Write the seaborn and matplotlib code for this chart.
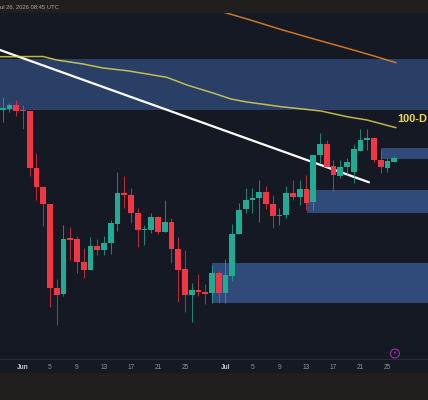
import pandas as pd
import matplotlib
matplotlib.use('Agg')
import matplotlib.pyplot as plt
from matplotlib.patches import Rectangle
import seaborn as sns

# Daily candles, day 0 = Jun 1
days = list(range(-3, 56))
opens = [290.5, 291.3, 295, 290, 289, 232, 213, 196, 112, 106, 162, 161, 138, 130, 154, 150, 157, 176, 207, 205,
         187, 170, 170, 183, 168, 178, 151, 131, 105, 110, 108, 107, 127, 107, 124, 166, 191, 200, 202, 208,
         196, 184, 185, 207, 203, 211, 198, 245, 256, 234, 224, 233, 228, 249, 260, 262, 240, 232, 238]
closes = [292, 294.7, 289, 289, 232, 213, 196, 112, 105, 161, 160.5, 138, 130, 154, 150, 157, 177, 207, 205, 187,
          170, 171, 183, 168, 178, 151, 130, 105, 110, 108, 106.5, 127, 107, 125, 166, 190, 200, 202, 208, 196,
          184, 185, 207, 203, 211, 197, 245, 256, 233, 225, 233, 238, 251, 260, 262, 240, 233, 239, 242]
highs = [303, 297, 300, 295, 289, 247, 214, 196, 121, 175, 173, 164, 152, 163, 161, 164, 180, 228, 224, 212,
         192, 175, 187, 184, 200, 182, 163, 150, 117, 126, 116, 135, 129, 141, 176, 197, 212, 212, 220, 214,
         205, 192, 214, 220, 220, 225, 245, 267, 260, 240, 240, 242, 256, 271, 271, 263, 250, 242, 244]
lows = [278, 288, 284, 271, 224, 200, 174, 93, 75, 104, 140, 127, 122, 130, 145, 145, 146, 169, 192, 177,
        153, 155, 167, 166, 168, 137, 98, 88, 78, 104, 96, 97, 97, 97, 119, 166, 187, 187, 178, 191,
        172, 175, 182, 200, 195, 190, 190, 237, 233, 208, 222, 225, 217, 249, 250, 238, 227, 228, 238]

# Moving averages and trend line
ma100_days = [-3.41, 2.96, 5.0, 8.9, 11.85, 15.4, 18.4, 21.3, 24.3, 28.15, 30.81, 33.19, 38.22, 44.15, 48, 50.96, 55.26]
ma100_vals = [343.3, 343.5, 340, 336, 332, 329.3, 326, 322.7, 315, 307, 301, 298, 293.3, 289, 283.3, 280, 272.3]
ma200_days = [29.78, 33.19, 38.22, 43.11, 48, 52, 55.26]
ma200_vals = [387.7, 381, 370.5, 361, 351.8, 344, 337.3]
trend_days = [-3.41, 51.26]
trend_vals = [350, 217.7]

# Supply / demand zones
zone_start = [-3.41, 53, 42.1, 28.0]
zone_low = [290, 241, 187.3, 96.7]
zone_high = [341.3, 251.7, 210.5, 137.3]
zone_colors = ['#2a3f66', '#304b7a', '#304b7a', '#304b7a']

tick_days = [0, 4, 8, 12, 16, 20, 24, 30, 34, 38, 42, 46, 50, 54]
tick_labels = ['Jun', '5', '9', '13', '17', '21', '25', 'Jul', '5', '9', '13', '17', '21', '25']

UP = '#22ab94'
DOWN = '#f23645'
BG = '#151924'
BAR = '#201f1e'

sns.set_theme(style='dark')
plt.rcParams['font.family'] = ['Liberation Sans', 'DejaVu Sans']

df = pd.DataFrame({'day': days, 'open': opens, 'close': closes, 'high': highs, 'low': lows})
df['up'] = df['close'] >= df['open']
df['body_low'] = df[['open', 'close']].min(axis=1)
df['body_height'] = (df['close'] - df['open']).abs()

fig = plt.figure(figsize=(4.28, 4.0), dpi=100, facecolor=BAR)
ax = fig.add_axes([0, 41 / 400, 1, 346.5 / 400], facecolor=BG)

# Strip under the time axis
fig.add_artist(Rectangle((0, 28 / 400), 1, 13 / 400, transform=fig.transFigure, color=BG, zorder=0))

for start, low, high, color in zip(zone_start, zone_low, zone_high, zone_colors):
    ax.add_patch(Rectangle((start, low), 60 - start, high - low, color=color, lw=0, zorder=1))

sns.lineplot(x=trend_days, y=trend_vals, color='white', linewidth=1.6, ax=ax, zorder=2)

# Wicks then bodies
for is_up, color in [(True, UP), (False, DOWN)]:
    sub = df[df['up'] == is_up]
    ax.vlines(sub['day'], sub['low'], sub['high'], color=color, linewidth=0.7, alpha=0.75, zorder=3)
    sns.barplot(data=sub, x='day', y='body_height', bottom=sub['body_low'].values, native_scale=True,
                color=color, saturation=1, width=0.82, linewidth=0, errorbar=None, ax=ax, zorder=4)

sns.lineplot(x=ma100_days, y=ma100_vals, color='#e8dc50', alpha=0.8, linewidth=1.1, ax=ax, zorder=5)
sns.lineplot(x=ma200_days, y=ma200_vals, color='#e07f28', alpha=0.9, linewidth=1.1, ax=ax, zorder=5)

ax.text(55.5, 280.5, '100-D', color='#ecd84f', fontsize=7.9, fontweight='bold',
        va='center', ha='left', zorder=6)

# Event marker above the time axis
ax.scatter([55.1], [46.5], s=42, facecolor='none', edgecolor='#9c2fb0', linewidth=0.8, zorder=6)
ax.text(55.1, 46.5, '\u26a1', color='#b04ac0', fontsize=4, family=['DejaVu Sans'], ha='center', va='center', zorder=7)

ax.set_xlim(-3.407, 60)
ax.set_ylim(41, 387.5)
ax.set_xticks(tick_days)
ax.set_xticklabels(tick_labels)
for lab, name in zip(ax.get_xticklabels(), tick_labels):
    lab.set_fontweight('bold' if name in ('Jun', 'Jul') else 'normal')
    lab.set_color('#c4c6cc' if name in ('Jun', 'Jul') else '#8f939d')
ax.tick_params(axis='x', length=0, pad=3.6, labelsize=4.8)
ax.set_yticks([])
ax.set_xlabel('')
ax.set_ylabel('')
ax.grid(False)
for side in ['top', 'left', 'right']:
    ax.spines[side].set_visible(False)
ax.spines['bottom'].set_color('#2a2e39')
ax.spines['bottom'].set_linewidth(0.7)

fig.text(0.5 / 428, 1 - 6.8 / 400, 'ul 26, 2026 08:45 UTC', color='#a9a9a9', fontsize=4.2,
         ha='left', va='center')

fig.savefig('out.png', dpi=100, facecolor=fig.get_facecolor())
